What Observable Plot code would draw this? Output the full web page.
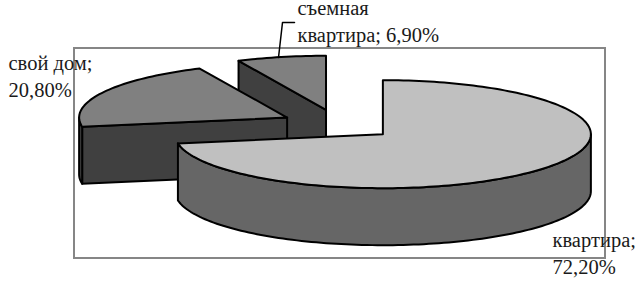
<!DOCTYPE html>
<html>
<head>
<meta charset="utf-8">
<style>html,body{margin:0;padding:0;background:#fff}svg{display:block}</style>
<script src="https://cdn.jsdelivr.net/npm/d3@7"></script>
<script src="https://cdn.jsdelivr.net/npm/@observablehq/plot@0.6"></script>
</head>
<body>
<script>
const categories = ["квартира", "свой дом", "съемная квартира"];
const shares = [72.2, 20.8, 6.9];
const labelLines = ["квартира;\n72,20%", "свой дом;\n20,80%", "съемная\nквартира; 6,90%"];

const W = 643, H = 283;
const cx = 338, cy = 124, rx = 208, ry = 54, depth = 57, explode = 58;
const topFill = ["#c0c0c0", "#808080", "#808080"];
const sideFill = ["#666666", "#404040", "#404040"];
const labelX = [552, 8, 297];
const labelY = [273, 96, 41];

const total = d3.sum(shares);
let acc = 0;
const slices = shares.map((v, i) => {
  const a0 = acc / total * 2 * Math.PI;
  acc += v;
  const a1 = acc / total * 2 * Math.PI;
  const mid = (a0 + a1) / 2;
  return {i, a0, a1,
    ox: cx + explode * Math.sin(mid),
    oy: cy - explode * Math.cos(mid) * ry / rx};
});
const rim = (s, a, dy = 0) => ({x: s.ox + rx * Math.sin(a), y: s.oy - ry * Math.cos(a) + dy});
const arc = (s, a0, a1, dy = 0) => {
  const n = Math.max(2, Math.ceil(Math.abs(a1 - a0) * 40));
  return d3.range(n + 1).map(k => rim(s, a0 + (a1 - a0) * k / n, dy));
};
const closed = pts => [...pts, pts[0]];
const apex = (s, dy = 0) => ({x: s.ox, y: s.oy + dy});
const poly = (pts, fill) => Plot.line(closed(pts), {
  x: "x", y: "y", fill, stroke: "#000", strokeWidth: 2, strokeLinejoin: "round", curve: "linear"
});

const drawSlice = s => {
  const marks = [];
  const q = Math.PI / 2, three = 3 * Math.PI / 2;
  if (s.i === 0) {
    const a = Math.max(s.a0, q), b = Math.min(s.a1, three);
    marks.push(poly([...arc(s, a, b), ...arc(s, b, a, depth)], sideFill[s.i]));
  } else if (s.i === 1) {
    marks.push(poly([apex(s), apex(s, depth), rim(s, s.a0, depth), rim(s, s.a0)], sideFill[s.i]));
    marks.push(poly([...arc(s, s.a0, three), ...arc(s, three, s.a0, depth)], sideFill[s.i]));
  } else {
    marks.push(poly([apex(s), apex(s, depth), rim(s, s.a0, depth), rim(s, s.a0)], sideFill[s.i]));
  }
  marks.push(poly([apex(s), ...arc(s, s.a0, s.a1)], topFill[s.i]));
  return marks;
};

const frame = [{x1: 74, x2: 605, y1: 48, y2: 258}];
const leader = [{x: 278, y: 57}, {x: 282, y: 22}, {x: 294, y: 22}];
const labels = categories.map((c, i) => ({c, t: labelLines[i], x: labelX[i], y: labelY[i]}));

const chart = Plot.plot({
  width: W, height: H,
  margin: 0,
  style: {background: "#fff"},
  x: {type: "linear", domain: [0, W], range: [0, W], axis: null},
  y: {type: "linear", domain: [0, H], range: [0, H], axis: null},
  marks: [
    Plot.rect(frame, {x1: "x1", x2: "x2", y1: "y1", y2: "y2", fill: "none", stroke: "#868686", strokeWidth: 2}),
    ...drawSlice(slices[2]),
    ...drawSlice(slices[1]),
    ...drawSlice(slices[0]),
    Plot.line(leader, {x: "x", y: "y", stroke: "#000", strokeWidth: 1.5, curve: "linear"}),
    Plot.text(labels, {
      x: "x", y: "y", text: "t", textAnchor: "start", lineAnchor: "bottom",
      fontFamily: "Liberation Serif", fontSize: 20.5, lineHeight: 1.27, fill: "#1a1a1a"
    })
  ]
});
document.body.appendChild(chart);
</script>
</body>
</html>
